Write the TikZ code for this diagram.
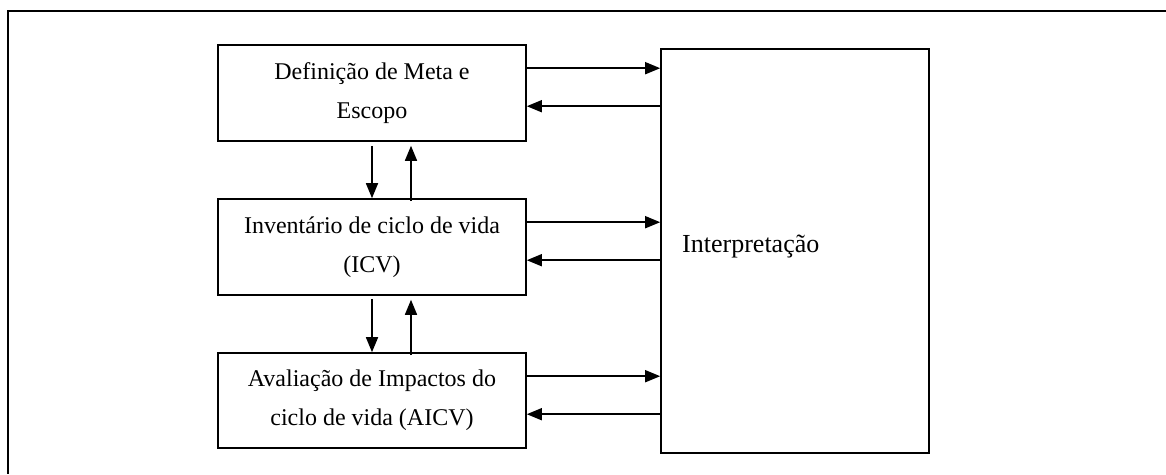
\documentclass[tikz,border=0pt]{standalone}
\usepackage{fontspec}
\setmainfont{Liberation Serif}
\usetikzlibrary{arrows.meta}
\begin{document}
\begin{tikzpicture}[x=1pt,y=-1pt,
  box/.style={draw,line width=1.6pt,inner sep=0pt,align=center,
    font=\fontsize{24}{39}\selectfont},
  arr/.style={line width=1.6pt,-{Triangle[length=15pt,width=12pt]}}]
\useasboundingbox (0,0) rectangle (1166,474);
% outer frame (top and left)
\draw[line width=2.6pt] (1166,11) -- (8,11) -- (8,474);
% boxes
\node[box,minimum width=308pt,minimum height=96pt] (b1) at (372,93)
  {Definição de Meta e\\Escopo};
\node[box,minimum width=308pt,minimum height=96pt] (b2) at (372,247)
  {Inventário de ciclo de vida\\(ICV)};
\node[box,minimum width=308pt,minimum height=95pt] (b3) at (372,400.5)
  {Avaliação de Impactos do\\ciclo de vida (AICV)};
\node[box,minimum width=268pt,minimum height=404pt] (int) at (795,251) {};
\node[anchor=base west,inner sep=0pt,font=\fontsize{26}{39}\selectfont] (intl) at (682,252) {Interpretação};
% vertical arrows
\draw[arr] ([yshift=-4pt]b1.south) -- (b2.north);
\draw[arr] ([xshift=39pt,yshift=-3pt]b2.north) -- ([xshift=39pt,yshift=-4pt]b1.south);
\draw[arr] ([yshift=-3pt]b2.south) -- (b3.north);
\draw[arr] ([xshift=39pt,yshift=-3pt]b3.north) -- ([xshift=39pt,yshift=-4pt]b2.south);
% horizontal arrows
\foreach \b in {b1,b2,b3}{
  \draw[arr] ([yshift=-24pt]\b.north east) -- ([yshift=-24pt]\b.north east -| int.west);
  \draw[arr] ([yshift=-62pt]\b.north east -| int.west) -- ([yshift=-62pt]\b.north east);
}
\end{tikzpicture}
\end{document}
